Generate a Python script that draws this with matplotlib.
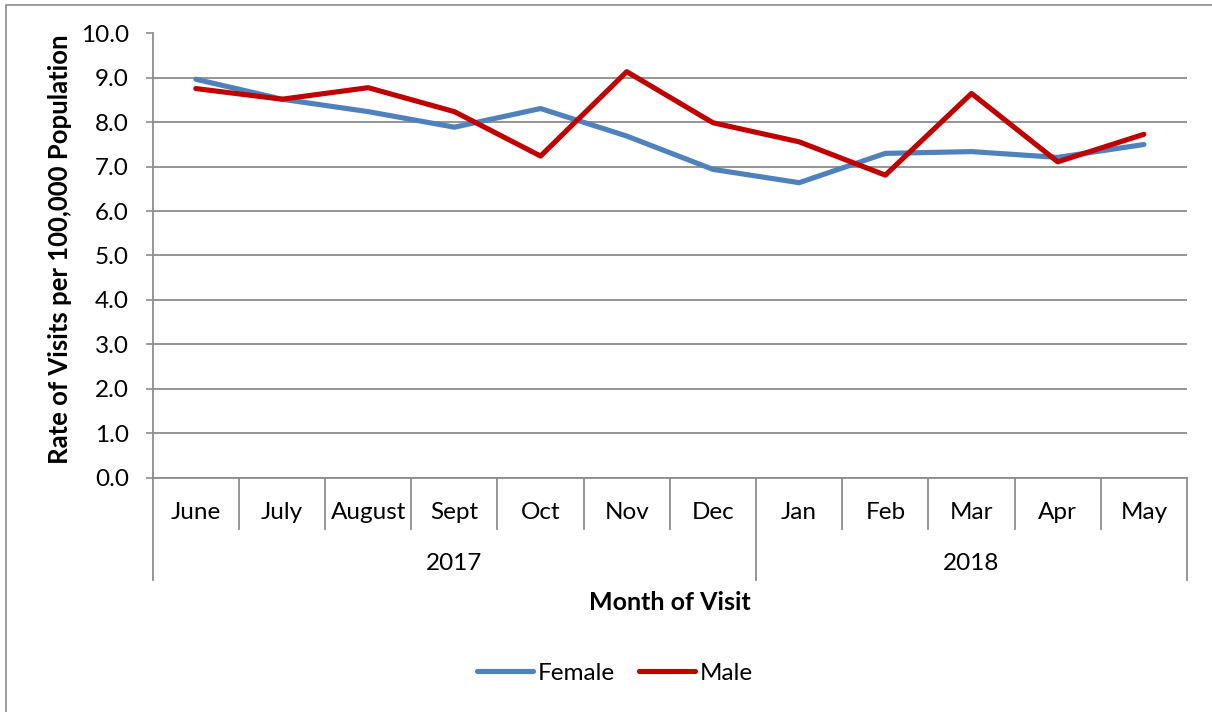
import matplotlib
matplotlib.use("Agg")
import matplotlib.pyplot as plt
import matplotlib.patches as patches
import matplotlib.transforms as mtransforms
import numpy as np

plt.rcParams['font.family'] = ['Lato', 'DejaVu Sans']

months = ['June', 'July', 'August', 'Sept', 'Oct', 'Nov', 'Dec',
          'Jan', 'Feb', 'Mar', 'Apr', 'May']
years = ['2017', '2018']
year_counts = [7, 5]
female = [8.97, 8.52, 8.24, 7.89, 8.31, 7.69, 6.94, 6.64, 7.30, 7.34, 7.21, 7.50]
male = [8.76, 8.52, 8.78, 8.24, 7.24, 9.14, 7.99, 7.56, 6.81, 8.65, 7.11, 7.73]

W, H = 1212, 712
fs = 17.5
fig = plt.figure(figsize=(W / 100, H / 100), dpi=100)
ax = fig.add_axes([152.7 / W, 1 - 477.5 / H, (1187 - 152.7) / W, (477.5 - 33.5) / H])

# outer chart border (runs past the right and bottom edges, as in the source)
fig.patches.append(patches.Rectangle((6 / W, 1 - 716 / H), (1216 - 6) / W, (716 - 4.7) / H,
                                     transform=fig.transFigure, fill=False,
                                     edgecolor='#8c8c8c', linewidth=1.2))

x = np.arange(len(months)) + 0.5
ax.plot(x, female, color='#4F81BD', linewidth=3.7, label='Female', solid_capstyle='round')
ax.plot(x, male, color='#C00000', linewidth=3.7, label='Male', solid_capstyle='round')

ax.set_xlim(0, len(months))
ax.set_ylim(0, 10)
ax.set_yticks(np.arange(0, 10.5, 1.0))
ax.set_yticklabels([f'{v:.1f}' for v in np.arange(0, 10.5, 1.0)], fontsize=fs)
ax.yaxis.grid(True, color='#8c8c8c', linewidth=1.3)
ax.set_axisbelow(True)
ax.tick_params(axis='y', length=5, width=1.2, color='#8c8c8c', pad=12)
ax.set_xticks([])
for s in ['top', 'right']:
    ax.spines[s].set_visible(False)
for s in ['left', 'bottom']:
    ax.spines[s].set_color('#8c8c8c')
    ax.spines[s].set_linewidth(1.3)

# multi-level category axis
tr = mtransforms.blended_transform_factory(ax.transData, fig.transFigure)
y_axis = 1 - 477.5 / H
y_month = 1 - 512.5 / H
y_inner = 1 - 529 / H
y_year = 1 - 563.5 / H
y_outer = 1 - 580 / H
for i, m in enumerate(months):
    ax.text(x[i], y_month, m, transform=tr, ha='center', va='center', fontsize=fs)
bounds = np.concatenate([[0], np.cumsum(year_counts)])
for b in range(len(months) + 1):
    bottom = y_outer if b in bounds else y_inner
    ax.plot([b, b], [y_axis, bottom], transform=tr, color='#8c8c8c',
            linewidth=1.3, clip_on=False)
for j, yr in enumerate(years):
    ax.text((bounds[j] + bounds[j + 1]) / 2, y_year, yr, transform=tr,
            ha='center', va='center', fontsize=fs)

fig.text(670 / W, 1 - 602 / H, 'Month of Visit', ha='center', va='center',
         fontsize=18, fontweight='bold')
fig.text(60 / W, 1 - 249 / H, 'Rate of Visits per 100,000 Population', ha='center',
         va='center', rotation=90, fontsize=18.5, fontweight='bold')

fig.legend(loc='center', bbox_to_anchor=(615 / W, 1 - 673 / H), ncol=2, frameon=False,
           fontsize=fs, handlelength=2.3, handletextpad=0.2, columnspacing=1.0)

fig.savefig('out.png', dpi=100)
